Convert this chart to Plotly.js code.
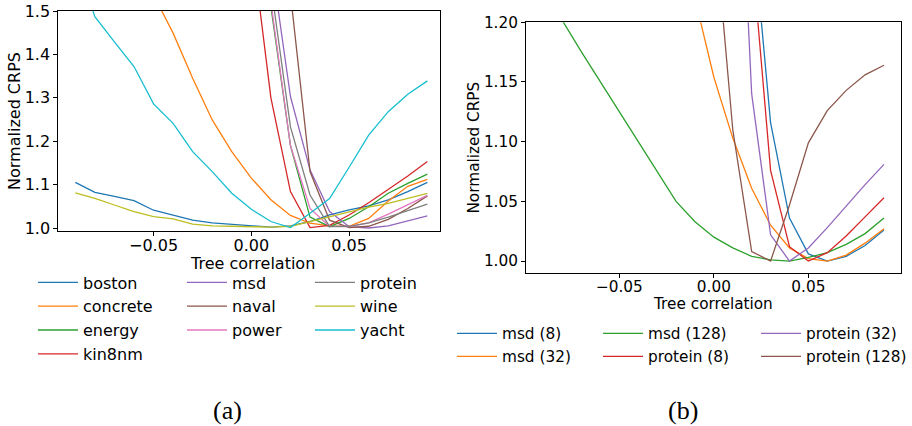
<!DOCTYPE html>
<html><head><meta charset="utf-8">
<script src="https://cdn.plot.ly/plotly-3.0.1.min.js"></script>
<style>html,body{margin:0;padding:0;background:#fff}#chart{width:912px;height:426px}</style>
</head><body><div id="chart"></div>
<script>
// Tree correlation values (shared x)
const corr = [-0.09,-0.08,-0.07,-0.06,-0.05,-0.04,-0.03,-0.02,-0.01,0.00,0.01,0.02,0.03,0.04,0.05,0.06,0.07,0.08,0.09];

// (a) datasets
const datasetsA = ["boston","concrete","energy","kin8nm","msd","naval","power","protein","wine","yacht"];
const boston   = [1.105,1.082,1.073,1.063,1.041,1.029,1.018,1.012,1.009,1.006,1.002,1.005,1.015,1.030,1.042,1.051,1.065,1.084,1.105];
const concrete = [null,null,null,null,1.537,1.449,1.345,1.249,1.176,1.115,1.065,1.029,1.011,1.005,1.004,1.022,1.062,1.096,1.112];
const energy   = [null,null,null,null,null,null,null,null,null,null,1.51,1.19,1.025,1.003,1.022,1.049,1.080,1.103,1.124];
const kin8nm   = [null,null,null,null,null,null,null,null,null,1.664,1.30,1.084,1.001,1.006,1.030,1.058,1.088,1.120,1.153];
const msd      = [null,null,null,null,null,null,null,null,null,null,1.621,1.303,1.134,1.038,1.003,1.000,1.005,1.016,1.028];
const naval    = [null,null,null,null,null,null,null,null,null,null,null,1.54,1.13,1.018,1.001,1.004,1.020,1.045,1.074];
const power    = [null,null,null,null,null,null,null,null,null,null,1.52,1.19,1.045,1.004,1.003,1.012,1.032,1.053,1.075];
const protein  = [null,null,null,null,null,null,null,null,null,null,1.559,1.233,1.076,1.003,1.004,1.012,1.025,1.040,1.055];
const wine     = [1.081,1.068,1.053,1.038,1.026,1.021,1.009,1.005,1.004,1.003,1.002,1.004,1.015,1.026,1.036,1.048,1.057,1.068,1.080];
const yacht    = [1.62,1.487,1.429,1.372,1.286,1.241,1.176,1.130,1.080,1.043,1.015,1.001,1.034,1.068,1.140,1.214,1.268,1.308,1.339];
const valuesA = [boston,concrete,energy,kin8nm,msd,naval,power,protein,wine,yacht];

// (b) datasets
const seriesB = ["msd (8)","msd (32)","msd (128)","protein (8)","protein (32)","protein (128)"];
const msd8      = [null,null,null,null,null,null,null,null,null,null,null,1.289,1.116,1.036,1.006,1.000,1.004,1.013,1.026];
const msd32     = [null,null,null,null,null,null,null,null,1.22,1.154,1.103,1.061,1.030,1.011,1.002,1.000,1.005,1.015,1.027];
const msd128    = [1.245,1.201,1.175,1.150,1.125,1.100,1.074,1.050,1.033,1.020,1.011,1.004,1.001,1.000,1.003,1.007,1.014,1.023,1.036];
const protein8  = [null,null,null,null,null,null,null,null,null,null,null,1.261,1.076,1.012,1.000,1.007,1.021,1.037,1.053];
const protein32 = [null,null,null,null,null,null,null,null,null,null,1.474,1.140,1.022,1.000,1.011,1.028,1.046,1.064,1.081];
const protein128= [null,null,null,null,null,null,null,null,null,1.29,1.11,1.008,1.000,1.047,1.099,1.126,1.143,1.156,1.164];
const valuesB = [msd8,msd32,msd128,protein8,protein32,protein128];

const tab10 = ["#1f77b4","#ff7f0e","#2ca02c","#d62728","#9467bd","#8c564b","#e377c2","#7f7f7f","#bcbd22","#17becf"];
const legendColsA = ["legend","legend","legend","legend","legend2","legend2","legend2","legend3","legend3","legend3"];
const legendColsB = ["legend4","legend4","legend5","legend5","legend6","legend6"];

const traces = [];
datasetsA.forEach((name,i)=>{
  traces.push({x:corr,y:valuesA[i],name:name,type:"scatter",mode:"lines",
    line:{color:tab10[i],width:1.3},xaxis:"x",yaxis:"y",legend:legendColsA[i],
    connectgaps:false,hoverinfo:"x+y+name"});
});
seriesB.forEach((name,i)=>{
  traces.push({x:corr,y:valuesB[i],name:name,type:"scatter",mode:"lines",
    line:{color:tab10[i],width:1.3},xaxis:"x2",yaxis:"y2",legend:legendColsB[i],
    connectgaps:false,hoverinfo:"x+y+name"});
});

const F = "DejaVu Sans, sans-serif";
const W = 912, H = 426;
const px = v => v/W, py = v => 1 - v/H;

function axisCommon(size){
  return {showline:true,linecolor:"#000",linewidth:1,mirror:true,ticks:"outside",ticklen:4,
    tickwidth:1,tickcolor:"#000",showgrid:false,zeroline:false,
    tickfont:{family:F,size:size,color:"#000"}};
}
function leg(x,y,size){
  return {x:px(x),y:py(y),xanchor:"left",yanchor:"top",orientation:"v",
    bgcolor:"rgba(0,0,0,0)",borderwidth:0,font:{family:F,size:size,color:"#000"},
    itemwidth:40,tracegroupgap:0};
}
function label(text,x,y,size,family){
  return {text:text,x:px(x),y:py(y),xref:"paper",yref:"paper",showarrow:false,
    xanchor:"center",yanchor:"middle",font:{family:family,size:size,color:"#000"}};
}
const SERIF = "Liberation Serif, Times New Roman, serif";

const layout = {
  width:W,height:H,margin:{l:0,r:0,t:0,b:0},paper_bgcolor:"#fff",plot_bgcolor:"#fff",
  showlegend:true,
  xaxis:Object.assign(axisCommon(16),{domain:[px(58.3),px(439.5)],range:[-0.0987,0.0962],
    tickvals:[-0.05,0,0.05],tickformat:".2f",anchor:"y",ticklabelstandoff:-4}),
  yaxis:Object.assign(axisCommon(16),{domain:[py(231),py(11)],range:[0.9931,1.5],
    tickvals:[1.0,1.1,1.2,1.3,1.4,1.5],tickformat:".1f",anchor:"x",
    title:{text:"Normalized CRPS",font:{family:F,size:16,color:"#000"},standoff:0}}),
  xaxis2:Object.assign(axisCommon(15.3),{domain:[px(526),px(901)],range:[-0.0994,0.099],
    tickvals:[-0.05,0,0.05],tickformat:".2f",anchor:"y2",ticklabelstandoff:-4}),
  yaxis2:Object.assign(axisCommon(15.3),{domain:[py(273),py(22.3)],range:[0.990,1.2],
    tickvals:[1.00,1.05,1.10,1.15,1.20],tickformat:".2f",anchor:"x2",
    title:{text:"Normalized CRPS",font:{family:F,size:15.3,color:"#000"},standoff:0}}),
  legend:leg(33,265.5,16),
  legend2:leg(182,265.5,16),
  legend3:leg(310,265.5,16),
  legend4:leg(452,317,15.3),
  legend5:leg(598,317,15.3),
  legend6:leg(756,317,15.3),
  annotations:[
    label("Tree correlation",252,263.5,16,F),
    label("Tree correlation",713,303.5,15.3,F),
    label("(a)",227,410,26,SERIF),
    label("(b)",683,410,26,SERIF)
  ]
};

Plotly.newPlot("chart",traces,layout,{displayModeBar:false,staticPlot:true});
</script>
</body></html>
